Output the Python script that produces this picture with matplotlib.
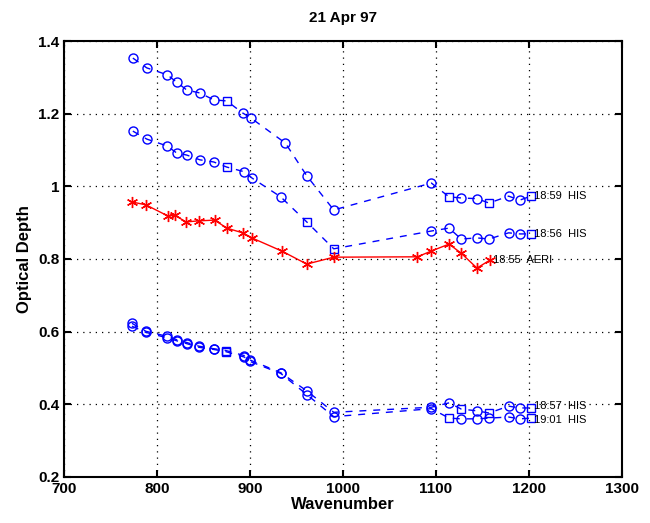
import matplotlib
matplotlib.use("Agg")
import matplotlib.pyplot as plt
import numpy as np

plt.rcParams['font.family'] = ['Liberation Sans', 'DejaVu Sans']

# ---- data ----
wn_1859 = [774, 789, 811, 821, 832, 846, 861, 875, 892, 901, 938, 961, 990,
           1095, 1114, 1127, 1144, 1157, 1178, 1190, 1202]
od_1859 = [1.353, 1.326, 1.307, 1.287, 1.265, 1.257, 1.238, 1.235, 1.202, 1.188,
           1.119, 1.029, 0.935, 1.009, 0.971, 0.968, 0.966, 0.954, 0.973, 0.962, 0.973]
sq_1859 = [875, 1114, 1157, 1202]

wn_1856 = [774, 789, 811, 821, 832, 846, 861, 875, 894, 902, 933, 961, 990,
           1095, 1114, 1127, 1144, 1157, 1178, 1190, 1202]
od_1856 = [1.152, 1.130, 1.111, 1.092, 1.086, 1.073, 1.067, 1.053, 1.040, 1.023,
           0.971, 0.902, 0.828, 0.877, 0.885, 0.855, 0.858, 0.855, 0.872, 0.869, 0.869]
sq_1856 = [875, 961, 990, 1202]

wn_aeri = [773, 788, 812, 819, 831, 845, 862, 875, 892, 902, 934, 961, 990,
           1080, 1095, 1114, 1127, 1144, 1158]
od_aeri = [0.957, 0.949, 0.918, 0.921, 0.902, 0.905, 0.907, 0.885, 0.872, 0.858,
           0.822, 0.786, 0.805, 0.806, 0.822, 0.841, 0.816, 0.775, 0.797]

wn_1857 = [773, 788, 811, 821, 832, 845, 861, 874, 894, 900, 933, 961, 990,
           1095, 1114, 1127, 1144, 1157, 1178, 1190, 1202]
od_1857 = [0.623, 0.601, 0.587, 0.578, 0.570, 0.560, 0.553, 0.548, 0.534, 0.522,
           0.487, 0.437, 0.378, 0.392, 0.404, 0.387, 0.382, 0.376, 0.395, 0.390, 0.390]
sq_1857 = [874, 1127, 1157, 1202]

wn_1901 = [773, 788, 811, 821, 832, 845, 861, 874, 894, 900, 933, 961, 990,
           1095, 1114, 1127, 1144, 1157, 1178, 1190, 1202]
od_1901 = [0.615, 0.598, 0.583, 0.575, 0.567, 0.557, 0.551, 0.545, 0.530, 0.518,
           0.485, 0.427, 0.366, 0.388, 0.362, 0.360, 0.360, 0.362, 0.365, 0.360, 0.362]
sq_1901 = [874, 1114, 1202]

labels = ['18:59  HIS', '18:56  HIS', '18:55  AERI', '18:57  HIS', '19:01  HIS']

fig = plt.figure(figsize=(6.5, 5.23), dpi=100)
ax = fig.add_axes([0.0985, 0.088, 0.8585, 0.8336])

blue = '#0000ff'
red = '#ff0000'

def his(wn, od, sq, label, dy=0.0):
    wn = np.array(wn); od = np.array(od)
    ax.plot(wn, od, '--', color=blue, lw=1.0, dashes=(5, 5))
    issq = np.isin(wn, sq)
    ax.plot(wn[~issq], od[~issq], 'o', mfc='none', mec=blue, ms=6.5, mew=1.0)
    ax.plot(wn[issq], od[issq], 's', mfc='none', mec=blue, ms=5.5, mew=1.0)
    ax.text(wn[-1] + 3, od[-1] + dy, label, fontsize=8, va='center', ha='left')

his(wn_1859, od_1859, sq_1859, labels[0])
his(wn_1856, od_1856, sq_1856, labels[1])
his(wn_1857, od_1857, sq_1857, labels[3], dy=0.004)
his(wn_1901, od_1901, sq_1901, labels[4], dy=-0.004)

ax.plot(wn_aeri, od_aeri, '-', color=red, lw=1.0, marker=(6, 2, 0), ms=8, mew=1.0)
ax.text(wn_aeri[-1] + 3, od_aeri[-1], labels[2], fontsize=8, va='center', ha='left')

ax.set_xlim(700, 1300)
ax.set_ylim(0.2, 1.4)
ax.set_xticks([700, 800, 900, 1000, 1100, 1200, 1300])
ax.set_yticks([0.2, 0.4, 0.6, 0.8, 1.0, 1.2, 1.4])
ax.set_yticklabels(['0.2', '0.4', '0.6', '0.8', '1', '1.2', '1.4'])
ax.grid(True, color='black', linestyle=(0, (1, 4)), linewidth=0.9)
ax.tick_params(direction='in', top=True, right=True, length=5, width=1.5,
               labelsize=11)
for lab in ax.get_xticklabels() + ax.get_yticklabels():
    lab.set_fontweight('bold')
for s in ax.spines.values():
    s.set_linewidth(1.5)

ax.set_xlabel('Wavenumber', fontsize=12, fontweight='bold', labelpad=1)
ax.set_ylabel('Optical Depth', fontsize=12, fontweight='bold')
ax.set_title('21 Apr 97', fontsize=11, fontweight='bold', pad=14)

fig.savefig('out.png', dpi=100)
